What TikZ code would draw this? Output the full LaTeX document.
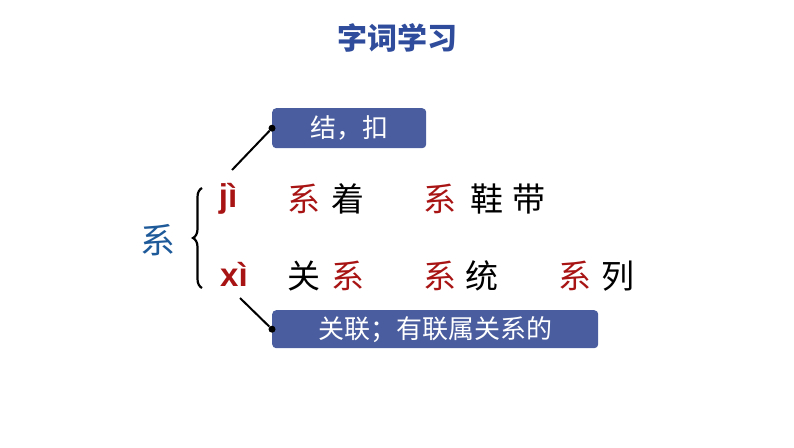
\documentclass[tikz,border=0pt]{standalone}
\usepackage{fontspec}
\newfontfamily\cjk{Noto Sans CJK SC}
\newfontfamily\pyfont{Liberation Sans}
\usetikzlibrary{decorations.pathreplacing}
\definecolor{titleblue}{HTML}{2F4C9C}
\definecolor{boxblue}{HTML}{4A5D9E}
\definecolor{charred}{HTML}{A81414}
\definecolor{charblue}{HTML}{1E5A9A}

\begin{document}
\begin{tikzpicture}[x=1pt,y=-1pt,
  hz/.style={inner sep=0pt,font=\cjk\fontsize{33}{33}\selectfont},
  red hz/.style={hz,text=charred},
  py/.style={inner sep=0pt,text=charred,font=\pyfont\bfseries\fontsize{33}{33}\selectfont},
  meaning/.style={fill=boxblue,rounded corners=4pt,text=white,inner sep=0pt,anchor=north west,
    font=\cjk\fontsize{26}{26}\selectfont},
  dot/.style={circle,fill=black,inner sep=0pt,minimum size=7pt}]
\useasboundingbox (0,0) rectangle (794,447);
\node[font=\cjk\bfseries\fontsize{30}{30}\selectfont,text=titleblue] (title) at (397,38) {字词学习};
% the character and its two readings
\node[hz,text=charblue,font=\cjk\fontsize{35}{35}\selectfont] (zi) at (158,240) {系};
\draw[line width=2.2pt,decorate,decoration={brace,amplitude=9pt}] (202,288) -- (202,188);
\node[py] (ji) at (228,199) {jì};
\node[py] (xi) at (234,274) {xì};
% words
\node[red hz] (a1) at (304,199) {系};
\node[hz] (a2) at (348,199) {着};
\node[red hz] (b1) at (440,199) {系};
\node[hz] (b2) at (487,199) {鞋};
\node[hz] (b3) at (529,199) {带};
\node[hz] (c1) at (304,276) {关};
\node[red hz] (c2) at (348,276) {系};
\node[red hz] (d1) at (440,276) {系};
\node[hz] (d2) at (482,276) {统};
\node[red hz] (e1) at (575,276) {系};
\node[hz] (e2) at (618,276) {列};
% meanings
\node[meaning,minimum width=154pt,minimum height=40pt] (m1) at (272,108) {结，扣};
\node[meaning,minimum width=326pt,minimum height=38pt] (m2) at (272,310) {关联；有联属关系的};
\node[dot] (p1) at (m1.west) {};
\node[dot] (p2) at (m2.west) {};
\coordinate (s1) at (232,170);
\coordinate (s2) at (240,298);
\draw[line width=2pt] (s1) -- (p1);
\draw[line width=2pt] (s2) -- (p2);
\end{tikzpicture}
\end{document}
